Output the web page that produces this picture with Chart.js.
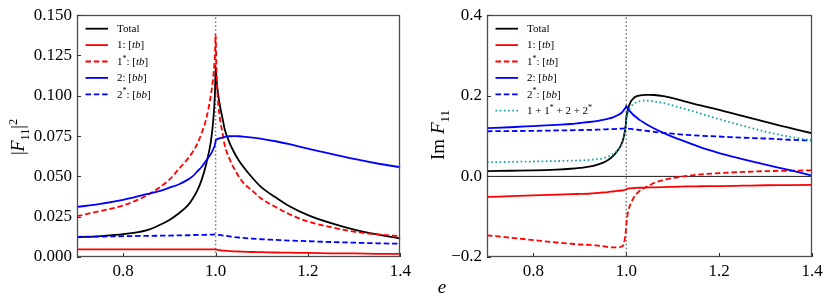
<!DOCTYPE html>
<html><head><meta charset="utf-8">
<script src="https://cdn.jsdelivr.net/npm/chart.js@4"></script>
<style>
html,body{margin:0;padding:0;background:#fff;width:831px;height:306px;overflow:hidden;}
canvas{position:absolute;top:0;}
#c1{left:0;}
#c2{left:415px;}
.lab{position:absolute;font-family:"Liberation Serif",serif;color:#000;white-space:nowrap;text-align:center;}
.lab sub,.lab sup{font-size:0.68em;line-height:0;}
.rot{transform:rotate(-90deg);}
</style></head><body>
<canvas id="c1" width="415" height="306" style="width:415px;height:306px"></canvas>
<canvas id="c2" width="416" height="306" style="width:416px;height:306px"></canvas>
<div class="lab rot" style="left:-22px;top:124px;width:80px;height:26px;line-height:26px;font-size:18px;">|<i>F</i><sub>11</sub>|<sup>2</sup></div>
<div class="lab rot" style="left:398px;top:122px;width:80px;height:26px;line-height:26px;font-size:19px;">Im <i>F</i><sub>11</sub></div>
<div class="lab" style="left:432px;top:274px;width:20px;height:26px;line-height:26px;font-size:19px;"><i>e</i></div>
<script>
// ---------------- data ----------------
const eGrid = [0.70,0.75,0.80,0.85,0.88,0.90,0.92,0.94,0.95,0.96,0.97,0.98,0.99,0.995,0.999,1.0,1.002,1.005,1.01,1.015,1.02,1.03,1.04,1.05,1.06,1.08,1.10,1.13,1.16,1.20,1.25,1.30,1.35,1.40];

// |F11|^2 (left panel)
const modTotal = [0.0122,0.0130,0.0142,0.0165,0.0200,0.0230,0.0270,0.0320,0.0360,0.0410,0.0480,0.0580,0.0720,0.0850,0.1050,0.1185,0.1100,0.1020,0.0930,0.0860,0.0790,0.0710,0.0650,0.0600,0.0560,0.0490,0.0430,0.0370,0.0315,0.0260,0.0210,0.0170,0.0140,0.0115];
const mod1 = [0.0047,0.0047,0.0047,0.0047,0.0047,0.0047,0.0047,0.0047,0.0047,0.0047,0.0047,0.0047,0.0047,0.0047,0.0047,0.0047,0.0046,0.0044,0.0042,0.0040,0.0039,0.0037,0.0035,0.0034,0.0033,0.0031,0.0030,0.0028,0.0027,0.0025,0.0023,0.0022,0.0020,0.0019];
const mod1s = [0.0253,0.0285,0.0320,0.0380,0.0435,0.0480,0.0545,0.0610,0.0650,0.0700,0.0770,0.0860,0.1010,0.1120,0.1280,0.1380,0.1150,0.0980,0.0850,0.0770,0.0690,0.0610,0.0550,0.0500,0.0460,0.0410,0.0360,0.0310,0.0265,0.0220,0.0185,0.0157,0.0140,0.0130];
const mod2 = [0.0310,0.0330,0.0355,0.0390,0.0410,0.0430,0.0450,0.0480,0.0500,0.0530,0.0560,0.0600,0.0640,0.0670,0.0700,0.0720,0.0728,0.0733,0.0737,0.0741,0.0745,0.0749,0.0750,0.0749,0.0747,0.0741,0.0733,0.0718,0.0700,0.0672,0.0640,0.0608,0.0580,0.0557];
const mod2s = [0.0125,0.0127,0.0129,0.0131,0.0132,0.0133,0.0134,0.0135,0.0136,0.0137,0.0137,0.0138,0.0139,0.0139,0.0140,0.0140,0.0139,0.0138,0.0136,0.0134,0.0132,0.0128,0.0124,0.0121,0.0118,0.0114,0.0110,0.0106,0.0102,0.0098,0.0093,0.0089,0.0085,0.0082];

// Im F11 (right panel)
const imTotal = [0.013,0.014,0.015,0.017,0.019,0.021,0.024,0.030,0.034,0.040,0.049,0.062,0.081,0.100,0.130,0.145,0.158,0.172,0.186,0.193,0.198,0.201,0.2025,0.2025,0.202,0.199,0.194,0.185,0.176,0.165,0.150,0.135,0.121,0.107];
const im1 = [-0.051,-0.049,-0.047,-0.045,-0.044,-0.0435,-0.043,-0.041,-0.040,-0.039,-0.0375,-0.036,-0.035,-0.034,-0.0325,-0.032,-0.031,-0.030,-0.0295,-0.029,-0.0287,-0.0282,-0.0278,-0.0274,-0.027,-0.0264,-0.026,-0.025,-0.0245,-0.024,-0.023,-0.022,-0.0215,-0.021];
const im1s = [-0.146,-0.152,-0.158,-0.164,-0.167,-0.169,-0.170,-0.172,-0.173,-0.175,-0.176,-0.176,-0.174,-0.166,-0.135,-0.120,-0.100,-0.082,-0.066,-0.055,-0.046,-0.035,-0.028,-0.022,-0.016,-0.009,-0.004,0.001,0.005,0.008,0.011,0.013,0.014,0.015];
const im2 = [0.120,0.122,0.125,0.128,0.130,0.1325,0.135,0.138,0.140,0.143,0.146,0.151,0.158,0.165,0.172,0.175,0.171,0.166,0.159,0.153,0.148,0.139,0.132,0.125,0.119,0.108,0.098,0.085,0.072,0.058,0.043,0.029,0.016,0.002];
const im2s = [0.112,0.1125,0.113,0.114,0.1145,0.115,0.1155,0.116,0.1165,0.117,0.1175,0.118,0.1185,0.119,0.119,0.119,0.1188,0.1184,0.1178,0.117,0.1163,0.115,0.1135,0.112,0.1105,0.108,0.106,0.103,0.101,0.099,0.096,0.094,0.091,0.089];
const imSum = [0.035,0.036,0.037,0.038,0.039,0.0395,0.041,0.043,0.045,0.049,0.055,0.063,0.078,0.095,0.125,0.140,0.152,0.163,0.173,0.179,0.183,0.187,0.188,0.1875,0.186,0.182,0.176,0.166,0.156,0.142,0.126,0.111,0.099,0.089];

// axes
const eRange = [0.7, 1.4];
const modRange = [0, 0.15];
const imRange = [-0.2, 0.4];
const eTicks = [0.8, 1.0, 1.2, 1.4];
const modTicks = [0, 0.025, 0.05, 0.075, 0.1, 0.125, 0.15];
const imTicks = [-0.2, 0, 0.2, 0.4];
const threshold = 1.0;

// ---------------- styling ----------------
const FONT = '"Liberation Serif", serif';
const BLACK = '#000000', RED = '#ff0000', BLUE = '#0000ff', TEAL = '#17a0a0';
const DASH = [5.5, 2.8], DOT = [1.6, 2.6];

function pts(ys){ return eGrid.map((x,i)=>({x:x, y:ys[i]})); }
function line(label, ys, color, dash, order){
  return {label, data: pts(ys), borderColor: color, backgroundColor: color, borderWidth: 1.8,
    borderDash: dash, pointRadius: 0, fill: false, cubicInterpolationMode: 'monotone', order};
}
function vline(range){
  return {label:'_thr', data:[{x:threshold,y:range[0]},{x:threshold,y:range[1]}], borderColor:'#777777',
    borderWidth:1.5, borderDash:[1.5,2.4], pointRadius:0, fill:false, tension:0, order:100};
}
function hline(v){
  return {label:'_zero', data:[{x:eRange[0],y:v},{x:eRange[1],y:v}], borderColor:'#000',
    borderWidth:0.9, pointRadius:0, fill:false, tension:0, order:99};
}

const framePlugin = {
  id: 'frame',
  afterDatasetsDraw(chart, args, opts){
    const {ctx, chartArea:a, scales} = chart;
    ctx.save();
    ctx.strokeStyle = '#4d4d4d'; ctx.lineWidth = 1.3; ctx.setLineDash([]);
    ctx.strokeRect(Math.round(a.left)+0.5, Math.round(a.top)+0.5, Math.round(a.right-a.left)-1, Math.round(a.bottom-a.top)-1);
    ctx.lineWidth = 1; ctx.strokeStyle = '#333';
    scales.x.ticks.forEach(t=>{
      const px = Math.round(scales.x.getPixelForValue(t.value))+0.5;
      ctx.beginPath(); ctx.moveTo(px, a.bottom); ctx.lineTo(px, a.bottom-4); ctx.stroke();
    });
    scales.y.ticks.forEach(t=>{
      const py = Math.round(scales.y.getPixelForValue(t.value))+0.5;
      ctx.beginPath(); ctx.moveTo(a.left, py); ctx.lineTo(a.left+4, py); ctx.stroke();
    });
    const items = opts.items || [];
    items.forEach((it, i)=>{
      const ds = chart.data.datasets[it.ds];
      const y = a.top + 13.5 + i*16.4;
      ctx.strokeStyle = ds.borderColor; ctx.lineWidth = 1.8;
      ctx.setLineDash(ds.borderDash || []);
      ctx.beginPath(); ctx.moveTo(a.left+8.5, y); ctx.lineTo(a.left+31, y); ctx.stroke();
      ctx.setLineDash([]);
      let x = a.left + 40;
      ctx.fillStyle = '#000'; ctx.textBaseline = 'middle'; ctx.textAlign = 'left';
      it.parts.forEach(p=>{
        const [txt, st] = p;
        let f = '11px ' + FONT, dy = 0;
        if (st === 'i') f = 'italic 11px ' + FONT;
        if (st === 's') { f = '8px ' + FONT; dy = -3.5; }
        ctx.font = f;
        ctx.fillText(txt, x, y + dy + 0.5);
        x += ctx.measureText(txt).width;
      });
    });
    ctx.restore();
  }
};

function tickFont(){ return {family: FONT, size: 17}; }
function fmt(dec){ return v => (v < 0 ? '\u2212' : '') + Math.abs(v).toFixed(dec); }

function makeChart(id, datasets, yRange, yTicks, yDec, yWidth, padRight, legendItems){
  return new Chart(document.getElementById(id), {
    type: 'line',
    data: { datasets },
    options: {
      responsive: false, animation: false, devicePixelRatio: 1,
      layout: { padding: { left: 0, right: padRight, top: 14, bottom: 0 } },
      plugins: { legend: { display: false }, tooltip: { enabled: false }, frame: { items: legendItems } },
      scales: {
        x: { type: 'linear', min: eRange[0], max: eRange[1],
          grid: { display: false, drawTicks: false }, border: { display: false },
          afterBuildTicks: s => { s.ticks = eTicks.map(v => ({value: v})); },
          afterFit: s => { s.height = 49; },
          ticks: { font: tickFont(), color: '#000', padding: 4, maxRotation: 0, autoSkip: false, callback: fmt(1) } },
        y: { type: 'linear', min: yRange[0], max: yRange[1],
          grid: { display: false, drawTicks: false }, border: { display: false },
          afterBuildTicks: s => { s.ticks = yTicks.map(v => ({value: v})); },
          afterFit: s => { s.width = yWidth; },
          ticks: { font: tickFont(), color: '#000', padding: 5, autoSkip: false, callback: fmt(yDec) } }
      }
    },
    plugins: [framePlugin]
  });
}

const legLeft = [
  {ds:0, parts:[['Total','n']]},
  {ds:1, parts:[['1: [','n'],['tb','i'],[']','n']]},
  {ds:2, parts:[['1','n'],['*','s'],[': [','n'],['tb','i'],[']','n']]},
  {ds:3, parts:[['2: [','n'],['bb','i'],[']','n']]},
  {ds:4, parts:[['2','n'],['*','s'],[': [','n'],['bb','i'],[']','n']]}
];
const legRight = legLeft.concat([
  {ds:5, parts:[['1 + 1','n'],['*','s'],[' + 2 + 2','n'],['*','s']]}
]);

makeChart('c1', [
  line('Total', modTotal, BLACK, [], 20),
  line('1: [tb]', mod1, RED, [], 19),
  line('1*: [tb]', mod1s, RED, DASH, 18),
  line('2: [bb]', mod2, BLUE, [], 17),
  line('2*: [bb]', mod2s, BLUE, DASH, 16),
  vline(modRange)
], modRange, modTicks, 3, 77, 13, legLeft);

makeChart('c2', [
  line('Total', imTotal, BLACK, [], 20),
  line('1: [tb]', im1, RED, [], 19),
  line('1*: [tb]', im1s, RED, DASH, 18),
  line('2: [bb]', im2, BLUE, [], 17),
  line('2*: [bb]', im2s, BLUE, DASH, 16),
  line('1 + 1* + 2 + 2*', imSum, TEAL, DOT, 15),
  vline(imRange),
  hline(0)
], imRange, imTicks, 1, 72, 19, legRight);
</script>
</body></html>
